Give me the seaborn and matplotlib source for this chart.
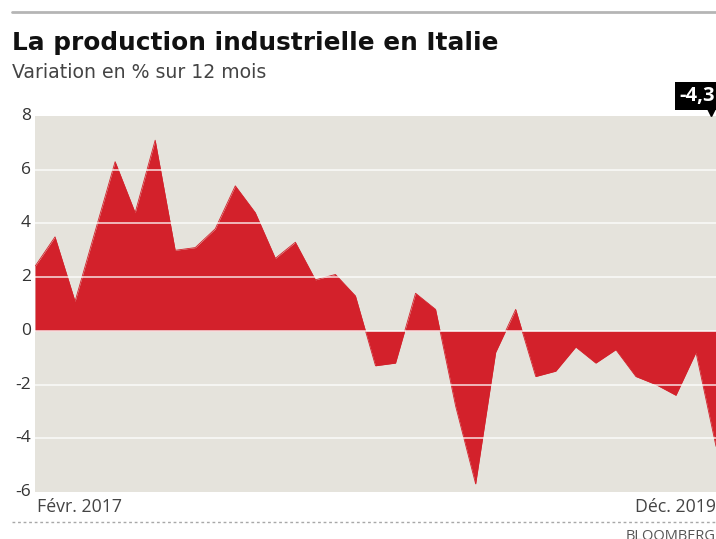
import matplotlib
matplotlib.use("Agg")
import matplotlib.pyplot as plt
from matplotlib.lines import Line2D
import matplotlib.transforms as mtransforms
import numpy as np
import pandas as pd
import seaborn as sns

# Monthly year-on-year change in Italian industrial output, Feb 2017 - Dec 2019
months = pd.date_range("2017-02-01", "2019-12-01", freq="MS")
values = [2.4, 3.5, 1.1, 3.7, 6.3, 4.4, 7.1, 3.0, 3.1, 3.8,
          5.4, 4.4, 2.7, 3.3, 1.9, 2.1, 1.3, -1.3, -1.2, 1.4,
          0.8, -2.8, -5.7, -0.8, 0.8, -1.7, -1.5, -0.6, -1.2, -0.7,
          -1.7, -2.0, -2.4, -0.8, -4.3]
yticks = [-6, -4, -2, 0, 2, 4, 6, 8]
first_label = "Févr. 2017"
last_label = "Déc. 2019"
last_value_label = "-4,3"

title = "La production industrielle en Italie"
subtitle = "Variation en % sur 12 mois"
source = "BLOOMBERG"

df = pd.DataFrame({"idx": np.arange(len(values)), "month": months, "value": values})

sns.set_theme(style="white")
plt.rcParams["font.family"] = ["Open Sans", "DejaVu Sans"]

RED = "#d3212b"
BG = "#e5e3dc"

W, H = 716, 539
fig = plt.figure(figsize=(W / 100, H / 100), dpi=100)
ax = fig.add_axes([35 / W, 1 - 492 / H, (716 - 35) / W, (492 - 116) / H])
ax.set_facecolor(BG)

ax.fill_between(df["idx"], 0, df["value"], color=RED, linewidth=0, zorder=2)
sns.lineplot(data=df, x="idx", y="value", ax=ax, color=RED, linewidth=0.6, zorder=3)

ax.set_xlim(0, len(values) - 1)
ax.set_ylim(yticks[0], yticks[-1])
ax.set_yticks(yticks)
ax.set_yticklabels([str(t) for t in yticks], fontsize=12.5, color="#333333")
ax.set_xticks([])
ax.set_xlabel("")
ax.set_ylabel("")
ax.tick_params(axis="y", length=0, pad=3)
for t in ax.get_yticklabels():
    t.set_verticalalignment("center")
for s in ax.spines.values():
    s.set_visible(False)

# white horizontal grid drawn over the area
for t in yticks[1:-1]:
    ax.axhline(t, color="white", linewidth=1.1, alpha=0.85, zorder=4)

# end-of-series value tag
trans = mtransforms.blended_transform_factory(ax.transData, ax.transAxes)
ax.text(len(values) - 1 - 0.05, 1.026, last_value_label, transform=trans,
        ha="right", va="bottom", fontsize=14.5, fontweight="bold", color="white",
        bbox=dict(boxstyle="square,pad=0.2", facecolor="black", edgecolor="none"),
        clip_on=False, zorder=6)
ax.plot([len(values) - 1 - 0.25], [1.01], marker="v", markersize=6, color="black",
        transform=trans, clip_on=False, zorder=6)

# date labels under the axis
fig.text(37 / W, 1 - 507 / H, first_label, ha="left", va="center",
         fontsize=12.8, color="#444444")
fig.text(716 / W, 1 - 507 / H, last_label, ha="right", va="center",
         fontsize=12.8, color="#444444")

# header
fig.text(12 / W, 1 - 43 / H, title, ha="left", va="center",
         fontsize=17.8, fontweight="bold", color="#111111",
         family=["DejaVu Sans"])
fig.text(12 / W, 1 - 72 / H, subtitle, ha="left", va="center",
         fontsize=13.6, color="#444444", family=["DejaVu Sans"])

# rules
fig.add_artist(Line2D([12 / W, 1], [1 - 12 / H, 1 - 12 / H], color="#b5b5b5",
                      linewidth=2, transform=fig.transFigure))
fig.add_artist(Line2D([12 / W, 1], [1 - 522 / H, 1 - 522 / H], color="#a8a8a8",
                      linewidth=1, linestyle=(0, (2, 2)), transform=fig.transFigure))

fig.text(716 / W, 1 - 537 / H, source, ha="right", va="center",
         fontsize=10.5, color="#555555")

fig.savefig("out.png", dpi=100, facecolor="white")
